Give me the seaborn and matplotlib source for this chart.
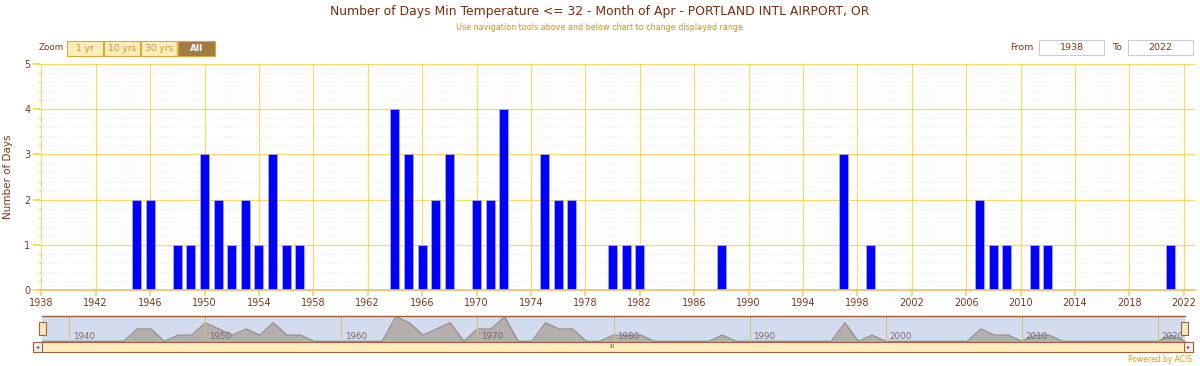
import numpy as np
import pandas as pd
import matplotlib
matplotlib.use('Agg')
import matplotlib.pyplot as plt
from matplotlib.patches import Rectangle
import seaborn as sns

# years with at least one day, and the count for each
years = [1945, 1946, 1948, 1949, 1950, 1951, 1952, 1953, 1954, 1955, 1956, 1957,
         1964, 1965, 1966, 1967, 1968, 1970, 1971, 1972, 1975, 1976, 1977,
         1980, 1981, 1982, 1988, 1997, 1999, 2007, 2008, 2009, 2011, 2012, 2021]
days = [2, 2, 1, 1, 3, 2, 1, 2, 1, 3, 1, 1,
        4, 3, 1, 2, 3, 2, 2, 4, 3, 2, 2,
        1, 1, 1, 1, 3, 1, 2, 1, 1, 1, 1, 1]
first_year, last_year = 1938, 2022
x_ticks = list(range(1938, 2023, 4))
nav_decades = [1940, 1950, 1960, 1970, 1980, 1990, 2000, 2010, 2020]

df = pd.DataFrame({'year': years, 'days': days})
full = df.set_index('year').reindex(range(first_year, last_year + 1), fill_value=0).reset_index()

BROWN = '#7a3a1c'
GOLD = '#ffd24d'
W, H = 1200, 366

def fx(px):
    return px / W

def fy(py):
    return 1 - py / H

sns.set_theme(style='white')
plt.rcParams['font.family'] = ['DejaVu Sans']

fig = plt.figure(figsize=(12, 3.66), dpi=100)

# main chart
ax = fig.add_axes([fx(40), fy(290), fx(1195) - fx(40), fy(64) - fy(290)])
sns.barplot(data=df, x='year', y='days', native_scale=True, width=0.66,
            color='#0000ff', saturation=1, edgecolor='#b8c0ff', linewidth=0.4, ax=ax)
ax.set_xlim(first_year - 0.1, first_year - 0.1 + 1155 / 13.6)
ax.set_ylim(0, 5)
ax.set_xticks(x_ticks)
ax.set_xticklabels([str(t) for t in x_ticks])
ax.set_yticks(range(0, 6))
ax.set_yticks(np.arange(0, 5.01, 0.2), minor=True)
ax.grid(True, which='major', axis='both', color=GOLD, linewidth=0.9, alpha=0.85)
ax.grid(True, which='minor', axis='y', color='#dddddd', linestyle=(0, (1, 2.5)), linewidth=0.6)
ax.set_axisbelow(True)
for s in ['top', 'right', 'left']:
    ax.spines[s].set_visible(False)
ax.spines['bottom'].set_color('#f0c060')
ax.spines['bottom'].set_linewidth(1.2)
ax.tick_params(axis='x', colors=GOLD, labelcolor=BROWN, labelsize=7, length=4, pad=2, bottom=True)
ax.tick_params(axis='y', colors=GOLD, labelcolor=BROWN, labelsize=7, length=5, pad=2, left=True)
ax.tick_params(axis='y', which='minor', colors='#aaaaaa', length=1, left=True)
ax.set_xlabel('')
ax.set_ylabel('Number of Days', color=BROWN, fontsize=7.5, labelpad=8)

# titles
fig.text(0.5, fy(12), 'Number of Days Min Temperature <= 32 - Month of Apr - PORTLAND INTL AIRPORT, OR',
         ha='center', va='center', color='#7a2a0a', fontsize=8.9)
fig.text(0.5, fy(27), 'Use navigation tools above and below chart to change displayed range',
         ha='center', va='center', color='#e09000', fontsize=5.8)

# zoom buttons
fig.text(fx(39), fy(48), 'Zoom', ha='left', va='center', color=BROWN, fontsize=6.3)
buttons = [('1 yr', 67, 103), ('10 yrs', 104, 140), ('30 yrs', 141, 177), ('All', 178, 215)]
for label, x0, x1 in buttons:
    active = label == 'All'
    fig.patches.append(Rectangle((fx(x0), fy(56)), fx(x1) - fx(x0), fy(41) - fy(56),
                                 transform=fig.transFigure, facecolor='#a57a42' if active else '#fdedb8',
                                 edgecolor='#d9a93a', linewidth=0.8))
    fig.text(fx((x0 + x1) / 2), fy(48.5), label, ha='center', va='center', fontsize=6.5,
             color='white' if active else '#c9962a', fontweight='bold' if active else 'normal')

# from / to boxes
fig.text(fx(1022), fy(47.5), 'From', ha='center', va='center', color=BROWN, fontsize=6.8)
fig.text(fx(1117), fy(47.5), 'To', ha='center', va='center', color=BROWN, fontsize=6.8)
for val, x0, x1 in [(str(first_year), 1039, 1104), (str(last_year), 1128, 1193)]:
    fig.patches.append(Rectangle((fx(x0), fy(55)), fx(x1) - fx(x0), fy(40) - fy(55),
                                 transform=fig.transFigure, facecolor='white',
                                 edgecolor='#cccccc', linewidth=0.8))
    fig.text(fx((x0 + x1) / 2), fy(47.5), val, ha='center', va='center', color=BROWN, fontsize=6.8)

# navigator
nav = fig.add_axes([fx(42), fy(342), fx(1185) - fx(42), fy(316) - fy(342)])
nav.set_facecolor('#d3dcef')
nav.fill_between(full['year'], full['days'], 0, color='#b5aeac', linewidth=0)
sns.lineplot(data=full, x='year', y='days', color='#978c8a', linewidth=0.9, ax=nav)
nav.set_xlim(first_year, last_year)
nav.set_ylim(-0.12, 4.1)
for d in nav_decades:
    nav.axvline(d, color='#d6c27e', linewidth=0.8)
    nav.text(d + 0.25, 0.05, str(d), color='#7a6a6a', fontsize=6.3, va='bottom', ha='left')
nav.set_xticks([])
nav.set_yticks([])
nav.set_xlabel('')
nav.set_ylabel('')
for s in ['left', 'right']:
    nav.spines[s].set_visible(False)
for s in ['top', 'bottom']:
    nav.spines[s].set_color('#a0603a')
    nav.spines[s].set_linewidth(1.0)

# navigator handles
for hx in [42, 1184]:
    fig.patches.append(Rectangle((fx(hx - 3.5), fy(335)), fx(7), fy(322) - fy(335),
                                 transform=fig.transFigure, facecolor='#f8e6bd',
                                 edgecolor='#a0603a', linewidth=0.8, zorder=5))

# scrollbar
fig.patches.append(Rectangle((fx(33), fy(352)), fx(1193) - fx(33), fy(342) - fy(352),
                             transform=fig.transFigure, facecolor='#fdedbd',
                             edgecolor='#a0603a', linewidth=0.8))
for bx in [33, 1184]:
    fig.patches.append(Rectangle((fx(bx), fy(352)), fx(9), fy(342) - fy(352),
                                 transform=fig.transFigure, facecolor='#eeeeee',
                                 edgecolor='#a0603a', linewidth=0.8))
fig.text(fx(37.5), fy(347), '◂', ha='center', va='center', fontsize=4.5, color='#555555')
fig.text(fx(1188.5), fy(347), '▸', ha='center', va='center', fontsize=4.5, color='#555555')
fig.text(fx(612), fy(347), 'III', ha='center', va='center', fontsize=4.5, color='#7a5a3a')

fig.text(fx(1192), fy(360), 'Powered by ACIS', ha='right', va='center', color='#e0a000', fontsize=5.5)

fig.savefig('out.png', dpi=100)
